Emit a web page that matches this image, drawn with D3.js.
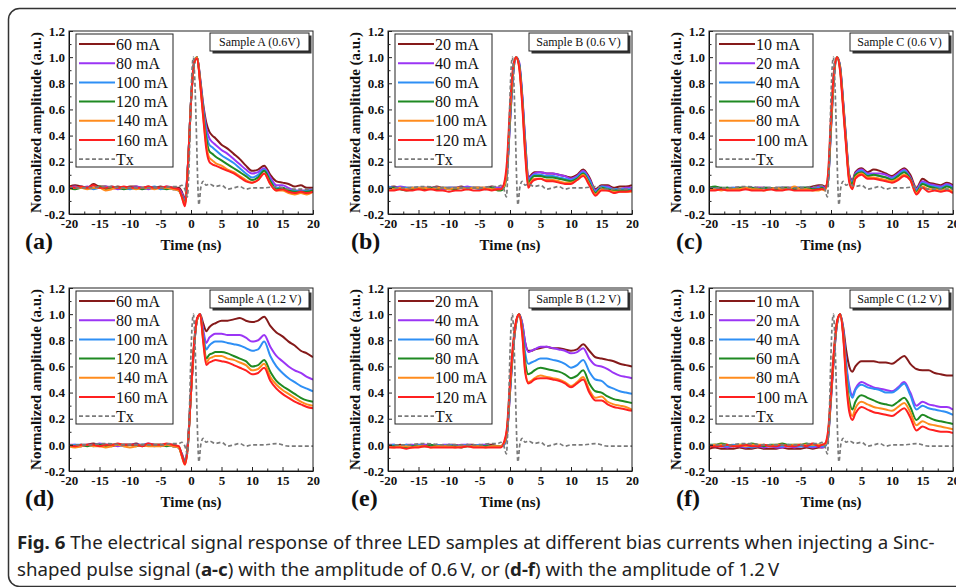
<!DOCTYPE html>
<html>
<head>
<meta charset="utf-8">
<script src="https://cdn.jsdelivr.net/npm/d3@7"></script>
<style>
body { margin: 0; background: #fff; }
svg { display: block; }
</style>
</head>
<body>
<script>
// time grid (ns) shared by all measured curves
var time = [-20,-19,-18,-17,-16,-15,-14,-13,-12,-11,-10,-9,-8,-7,-6,-5,-4,-3,-2,
            -1.5,-1,-0.5,0,0.5,1,1.5,2,2.5,3,3.5,4,
            5,6,7,8,9,10,11,12,13,14,15,16,17,18,19,20];

// transmitted sinc pulse (dashed grey)
var txTime = [-20,-17,-14,-11,-8,-5,-3,-2,-1.5,-1,-0.6,-0.3,0,0.2,0.4,0.6,0.9,1.1,1.3,1.6,2.0,2.5,3,4,5,6,7,8,9,10,12,14,16,18,20];
var txAmp  = [0.0,0.0,0.01,0.0,0.0,0.0,0.01,0.01,0.02,-0.01,-0.07,0.2,0.7,0.93,1.0,0.85,0.4,0.05,-0.13,0.0,0.05,0.02,0.03,0.01,0.02,-0.01,0.0,0.01,-0.01,0.0,0.0,0.01,-0.01,-0.01,-0.01];

var currentsA = ["60 mA","80 mA","100 mA","120 mA","140 mA","160 mA"];
var currentsB = ["20 mA","40 mA","60 mA","80 mA","100 mA","120 mA"];
var currentsC = ["10 mA","20 mA","40 mA","60 mA","80 mA","100 mA"];

var sampleLabels = ["Sample A (0.6V)","Sample B (0.6 V)","Sample C (0.6 V)",
                    "Sample A (1.2 V)","Sample B (1.2 V)","Sample C (1.2 V)"];
var panelLetters = ["(a)","(b)","(c)","(d)","(e)","(f)"];

// Sample A, 0.6 V
var ampA06 = [
 [0.01,0.02,0.01,0.0,0.03,0.01,0.01,0.0,0.01,0.0,0.01,0.01,0.0,0.01,0.0,0.01,0.0,0.0,0.0, -0.03,-0.09,0.18,0.66,0.95,1.0,0.84,0.64,0.5,0.43,0.4,0.38, 0.33,0.3,0.26,0.22,0.17,0.13,0.14,0.17,0.1,0.05,0.04,0.03,0.01,0.02,0.0,0.0],
 [0.0,0.01,0.0,0.01,0.0,0.0,0.01,0.0,-0.01,0.0,0.0,0.01,0.0,-0.01,0.0,0.0,0.01,0.0,-0.01, -0.04,-0.1,0.18,0.66,0.95,1.0,0.83,0.62,0.46,0.38,0.35,0.33, 0.29,0.26,0.22,0.18,0.14,0.11,0.12,0.15,0.08,0.02,0.02,0.0,-0.02,-0.02,-0.02,-0.01],
 [0.0,0.0,0.01,0.0,-0.01,0.0,0.0,0.01,0.0,0.0,-0.01,0.0,0.0,0.0,0.01,-0.01,0.0,-0.01,-0.02, -0.06,-0.12,0.17,0.66,0.95,1.0,0.82,0.6,0.42,0.33,0.31,0.29, 0.25,0.22,0.19,0.15,0.11,0.08,0.1,0.14,0.06,0.0,0.0,-0.02,-0.02,-0.03,-0.02,-0.02],
 [0.0,-0.01,0.0,0.0,0.0,0.01,-0.01,0.0,0.0,-0.01,0.0,0.0,-0.01,0.0,0.0,0.0,-0.01,0.0,-0.02, -0.06,-0.12,0.17,0.66,0.95,1.0,0.81,0.58,0.38,0.28,0.26,0.24, 0.21,0.18,0.15,0.12,0.09,0.06,0.08,0.13,0.05,-0.01,0.0,-0.02,-0.03,-0.03,-0.03,-0.02],
 [-0.01,0.0,0.0,-0.01,0.0,0.0,-0.02,-0.01,0.0,0.0,0.0,-0.01,0.0,0.0,-0.01,0.0,0.0,-0.01,-0.02, -0.07,-0.13,0.16,0.65,0.95,1.0,0.8,0.55,0.33,0.23,0.21,0.19, 0.17,0.14,0.12,0.09,0.06,0.04,0.06,0.11,0.03,-0.02,-0.02,-0.04,-0.05,-0.04,-0.05,-0.03],
 [0.01,0.0,0.01,0.0,0.02,0.0,0.0,0.01,0.0,0.01,0.0,0.0,0.0,0.01,0.0,0.0,0.01,0.0,-0.01, -0.07,-0.14,0.17,0.66,0.96,0.99,0.8,0.54,0.3,0.2,0.18,0.17, 0.15,0.13,0.11,0.08,0.05,0.04,0.06,0.11,0.03,-0.02,-0.01,-0.03,-0.04,-0.03,-0.04,-0.03]
];

// Sample B, 0.6 V
var ampB06 = [
 [0.0,0.01,0.0,0.0,0.0,-0.01,0.0,0.0,0.01,0.0,0.0,0.0,0.01,0.0,0.0,0.0,0.0,0.01,0.0, 0.0,0.02,0.12,0.5,0.86,1.0,0.95,0.7,0.35,0.08,0.1,0.12, 0.12,0.11,0.11,0.1,0.09,0.08,0.1,0.14,0.08,-0.01,0.02,0.02,0.0,0.01,0.01,0.02],
 [0.0,0.0,0.01,0.0,-0.01,0.0,0.0,0.0,0.0,-0.01,0.0,0.0,0.0,0.01,0.0,0.0,-0.01,0.0,0.0, 0.0,0.02,0.12,0.5,0.86,1.0,0.96,0.72,0.36,0.07,0.09,0.11, 0.12,0.11,0.11,0.1,0.09,0.07,0.09,0.13,0.07,-0.02,0.01,0.01,-0.01,-0.01,0.0,0.0],
 [0.01,0.0,0.0,0.0,0.0,0.0,0.0,-0.01,0.0,0.0,0.0,0.0,0.0,0.0,0.0,-0.01,0.0,0.0,-0.01, -0.01,0.01,0.12,0.52,0.87,1.0,0.95,0.7,0.33,0.05,0.08,0.1, 0.1,0.09,0.09,0.08,0.07,0.06,0.08,0.12,0.06,-0.03,0.01,0.0,-0.01,-0.01,-0.01,-0.01],
 [-0.01,0.0,-0.01,-0.02,-0.01,0.0,-0.01,0.0,-0.01,0.0,-0.01,-0.01,0.0,-0.01,0.0,0.0,-0.01,0.0,-0.02, -0.02,0.0,0.14,0.55,0.89,1.0,0.94,0.68,0.3,0.04,0.07,0.09, 0.09,0.08,0.08,0.07,0.06,0.05,0.07,0.11,0.04,-0.04,0.0,-0.01,-0.02,-0.02,-0.02,-0.02],
 [0.0,-0.01,0.0,-0.01,0.0,0.0,0.0,-0.01,0.0,0.0,-0.01,0.0,0.0,-0.01,0.0,0.0,0.0,-0.01,-0.01, -0.01,0.01,0.15,0.57,0.9,1.0,0.93,0.66,0.28,0.02,0.05,0.07, 0.07,0.06,0.06,0.05,0.04,0.04,0.06,0.1,0.03,-0.05,-0.01,-0.02,-0.03,-0.03,-0.03,-0.03],
 [-0.02,-0.02,-0.01,-0.02,-0.02,-0.01,-0.02,-0.01,-0.02,-0.02,-0.03,-0.02,-0.02,-0.01,-0.02,-0.02,-0.01,-0.02,-0.01, -0.01,0.03,0.2,0.62,0.92,1.0,0.92,0.64,0.25,0.0,0.04,0.06, 0.07,0.05,0.05,0.04,0.03,0.03,0.06,0.09,0.02,-0.06,-0.02,-0.02,-0.04,-0.03,-0.03,-0.02]
];

// Sample C, 0.6 V
var ampC06 = [
 [0.0,0.0,-0.01,0.0,-0.01,0.0,0.0,-0.01,0.0,0.0,-0.01,0.0,0.0,0.0,0.0,0.0,0.0,0.01,0.02, 0.02,0.01,0.05,0.45,0.85,1.0,0.93,0.66,0.36,0.1,0.06,0.12, 0.15,0.12,0.14,0.13,0.11,0.09,0.12,0.15,0.1,0.0,0.07,0.04,0.03,0.02,0.04,0.02],
 [0.0,0.0,0.0,-0.01,0.0,0.0,-0.01,0.0,0.0,0.0,0.0,-0.01,0.0,0.0,0.0,0.0,-0.01,0.0,0.01, 0.01,0.0,0.05,0.46,0.86,1.0,0.92,0.65,0.35,0.09,0.05,0.11, 0.14,0.11,0.11,0.11,0.1,0.08,0.11,0.14,0.08,-0.01,0.05,0.03,0.02,0.01,0.03,0.01],
 [-0.01,0.0,-0.01,0.0,0.0,-0.01,0.0,0.0,-0.01,0.0,-0.01,0.0,0.0,-0.01,0.0,0.0,0.0,-0.01,0.0, 0.0,-0.01,0.05,0.47,0.87,1.0,0.92,0.64,0.34,0.08,0.04,0.1, 0.13,0.1,0.1,0.09,0.08,0.07,0.1,0.13,0.07,-0.02,0.04,0.02,0.01,0.0,0.02,0.0],
 [0.0,0.01,0.0,0.0,-0.01,0.0,0.0,0.0,-0.01,0.0,0.0,-0.01,0.0,0.0,-0.01,0.0,0.0,-0.01,-0.01, 0.0,-0.01,0.06,0.48,0.87,1.0,0.91,0.63,0.33,0.07,0.03,0.1, 0.12,0.09,0.1,0.09,0.08,0.06,0.09,0.12,0.07,-0.03,0.03,0.01,0.0,-0.01,0.01,-0.01],
 [-0.01,-0.01,-0.02,-0.01,-0.01,-0.01,0.0,-0.01,-0.01,-0.02,-0.01,0.0,-0.01,-0.01,0.01,-0.01,-0.01,-0.02,-0.02, -0.01,-0.02,0.08,0.5,0.88,1.0,0.9,0.62,0.32,0.06,0.0,0.08, 0.11,0.08,0.08,0.07,0.06,0.05,0.07,0.1,0.06,-0.04,0.01,-0.01,-0.01,-0.02,-0.01,-0.03],
 [-0.02,-0.02,-0.01,-0.02,-0.02,-0.02,-0.01,-0.02,-0.02,-0.02,-0.01,-0.02,-0.02,-0.01,-0.02,-0.02,-0.02,-0.02,-0.01, -0.01,-0.01,0.1,0.55,0.9,1.0,0.89,0.6,0.3,0.04,-0.01,0.07, 0.1,0.07,0.07,0.06,0.05,0.04,0.06,0.09,0.06,-0.05,0.0,-0.03,-0.02,-0.03,-0.02,-0.04]
];

// Sample A, 1.2 V
var ampA12 = [
 [0.0,-0.01,-0.01,0.0,0.01,0.0,0.0,-0.01,0.0,0.0,0.0,0.01,-0.01,0.0,0.0,0.0,0.0,-0.01,-0.02, -0.07,-0.12,0.02,0.4,0.75,0.96,1.0,0.93,0.87,0.9,0.92,0.93, 0.95,0.95,0.96,0.97,0.95,0.94,0.95,0.98,0.91,0.86,0.83,0.79,0.76,0.72,0.7,0.67],
 [0.0,0.0,-0.01,0.0,0.0,0.01,0.0,0.0,-0.01,0.0,0.0,0.0,0.0,0.01,0.0,-0.01,0.0,0.0,-0.02, -0.07,-0.13,0.02,0.4,0.75,0.96,1.0,0.88,0.78,0.82,0.84,0.85, 0.85,0.84,0.84,0.84,0.82,0.79,0.8,0.84,0.75,0.68,0.64,0.6,0.57,0.55,0.52,0.5],
 [-0.01,0.0,0.0,0.0,-0.01,0.0,0.0,0.0,0.0,-0.01,0.0,0.0,0.0,0.0,-0.01,0.0,0.0,-0.01,-0.02, -0.08,-0.14,0.01,0.4,0.75,0.96,1.0,0.85,0.73,0.76,0.78,0.79, 0.79,0.78,0.77,0.76,0.74,0.72,0.73,0.79,0.68,0.6,0.55,0.51,0.48,0.45,0.43,0.41],
 [-0.01,-0.01,0.0,-0.01,0.0,0.0,-0.01,0.0,0.0,0.0,0.0,-0.01,0.0,0.0,0.0,0.0,-0.01,0.0,-0.02, -0.08,-0.14,0.01,0.4,0.76,0.96,1.0,0.82,0.66,0.69,0.7,0.71, 0.71,0.7,0.68,0.66,0.64,0.6,0.61,0.65,0.56,0.49,0.45,0.42,0.39,0.36,0.34,0.33],
 [-0.01,-0.02,-0.01,0.0,-0.01,-0.01,-0.02,-0.01,0.0,-0.01,-0.02,-0.01,0.0,-0.01,-0.01,-0.01,0.0,-0.01,-0.02, -0.09,-0.15,0.0,0.4,0.76,0.96,1.0,0.8,0.63,0.66,0.67,0.68, 0.68,0.66,0.65,0.63,0.61,0.57,0.58,0.62,0.52,0.46,0.42,0.39,0.36,0.33,0.31,0.3],
 [0.0,-0.01,0.0,0.0,0.0,-0.01,0.0,0.0,0.01,0.0,0.0,0.0,-0.01,0.01,0.0,0.0,0.01,0.0,-0.01, -0.08,-0.15,0.0,0.41,0.77,0.97,1.0,0.79,0.61,0.63,0.64,0.65, 0.64,0.63,0.61,0.59,0.57,0.54,0.55,0.59,0.49,0.43,0.39,0.36,0.33,0.31,0.29,0.28]
];

// Sample B, 1.2 V
var ampB12 = [
 [0.0,-0.01,0.0,-0.01,-0.01,0.0,0.0,-0.01,0.0,-0.01,0.0,0.0,-0.01,0.0,0.0,-0.01,0.0,0.0,-0.01, -0.01,0.0,0.08,0.4,0.72,0.93,1.0,0.93,0.78,0.72,0.72,0.73, 0.74,0.75,0.74,0.74,0.73,0.72,0.73,0.77,0.72,0.67,0.66,0.65,0.64,0.62,0.61,0.6],
 [0.0,0.0,-0.01,0.0,0.0,-0.01,0.0,0.0,-0.01,0.0,0.0,-0.01,0.0,0.0,-0.01,0.0,0.0,-0.01,-0.01, -0.01,0.0,0.08,0.4,0.72,0.93,1.0,0.93,0.78,0.71,0.72,0.73, 0.75,0.75,0.74,0.73,0.72,0.7,0.71,0.74,0.66,0.61,0.6,0.58,0.55,0.53,0.52,0.51],
 [-0.01,0.0,-0.01,0.0,-0.01,0.0,-0.01,-0.01,0.0,-0.01,0.0,-0.01,-0.01,0.0,-0.01,0.0,-0.01,-0.01,-0.01, -0.01,0.0,0.09,0.42,0.73,0.93,1.0,0.9,0.7,0.62,0.63,0.64, 0.66,0.66,0.65,0.64,0.62,0.59,0.61,0.65,0.56,0.5,0.49,0.45,0.43,0.41,0.4,0.39],
 [-0.01,-0.01,-0.01,-0.02,-0.01,-0.01,-0.01,0.0,-0.01,-0.01,-0.01,-0.01,-0.02,-0.01,-0.01,-0.01,-0.01,-0.01,-0.01, -0.01,0.01,0.1,0.43,0.74,0.94,1.0,0.88,0.63,0.54,0.55,0.57, 0.59,0.58,0.57,0.56,0.54,0.51,0.53,0.57,0.47,0.41,0.4,0.37,0.35,0.34,0.33,0.32],
 [-0.01,-0.02,-0.01,-0.01,-0.02,-0.01,-0.01,-0.02,-0.01,-0.01,-0.01,-0.02,-0.01,-0.01,-0.01,-0.01,-0.02,-0.01,-0.01, -0.01,0.01,0.11,0.45,0.75,0.94,1.0,0.86,0.57,0.48,0.49,0.51, 0.53,0.52,0.51,0.5,0.48,0.45,0.48,0.52,0.42,0.36,0.37,0.33,0.31,0.3,0.29,0.27],
 [-0.02,-0.02,-0.02,-0.03,-0.02,-0.02,-0.01,-0.02,-0.02,-0.02,-0.02,-0.02,-0.02,-0.01,-0.02,-0.02,-0.02,-0.02,-0.02, -0.02,0.02,0.13,0.48,0.77,0.95,1.0,0.85,0.55,0.47,0.48,0.5, 0.51,0.51,0.5,0.49,0.47,0.44,0.47,0.5,0.4,0.34,0.34,0.31,0.29,0.28,0.27,0.26]
];

// Sample C, 1.2 V
var ampC12 = [
 [-0.03,-0.02,-0.03,-0.03,-0.03,-0.02,-0.03,-0.03,-0.02,-0.03,-0.03,-0.03,-0.02,-0.03,-0.03,-0.03,-0.02,-0.03,-0.02, -0.02,-0.01,0.05,0.35,0.68,0.93,1.0,0.9,0.72,0.6,0.56,0.6, 0.64,0.64,0.64,0.63,0.63,0.62,0.65,0.68,0.62,0.58,0.57,0.57,0.55,0.54,0.53,0.53],
 [0.0,-0.01,-0.01,-0.02,-0.01,-0.01,-0.02,-0.01,-0.01,-0.02,-0.01,-0.02,-0.02,-0.01,-0.02,-0.01,-0.01,-0.02,-0.01, -0.02,-0.01,0.06,0.36,0.69,0.93,1.0,0.88,0.62,0.45,0.38,0.43, 0.48,0.46,0.44,0.43,0.42,0.41,0.44,0.48,0.4,0.3,0.33,0.31,0.3,0.29,0.29,0.27],
 [-0.01,0.0,-0.01,-0.01,0.0,-0.01,-0.01,-0.02,-0.01,0.0,-0.01,-0.01,-0.01,0.0,-0.01,-0.01,-0.01,-0.01,0.0, -0.01,-0.01,0.06,0.37,0.7,0.93,1.0,0.87,0.6,0.43,0.36,0.42, 0.46,0.44,0.43,0.42,0.4,0.4,0.43,0.47,0.38,0.27,0.3,0.28,0.27,0.26,0.25,0.23],
 [0.0,0.0,0.01,0.0,-0.01,0.0,0.0,0.01,0.0,-0.01,0.0,0.0,0.01,0.0,0.0,0.0,0.01,0.0,0.0, 0.0,0.0,0.07,0.38,0.71,0.94,1.0,0.85,0.53,0.34,0.27,0.33, 0.38,0.36,0.34,0.32,0.31,0.3,0.33,0.36,0.29,0.19,0.23,0.21,0.19,0.18,0.17,0.16],
 [-0.01,0.0,0.0,0.0,-0.01,0.0,-0.01,0.0,0.0,0.0,-0.01,0.0,0.0,-0.01,0.0,0.0,0.0,0.0,0.0, 0.0,0.0,0.08,0.39,0.72,0.94,1.0,0.84,0.5,0.29,0.22,0.28, 0.33,0.31,0.29,0.28,0.27,0.26,0.29,0.32,0.25,0.15,0.18,0.16,0.15,0.14,0.13,0.12],
 [-0.01,-0.01,-0.01,0.0,-0.01,-0.01,0.0,-0.01,-0.01,0.0,-0.01,-0.01,0.0,-0.01,-0.01,0.0,-0.01,0.01,-0.01, 0.0,0.01,0.1,0.4,0.73,0.95,1.0,0.83,0.47,0.25,0.19,0.24, 0.29,0.27,0.25,0.24,0.23,0.22,0.25,0.28,0.21,0.11,0.14,0.12,0.11,0.1,0.1,0.09]
];

var xTicks = [-20,-15,-10,-5,0,5,10,15,20];
var yTicks = [-0.2,0.0,0.2,0.4,0.6,0.8,1.0,1.2];

var seriesColors = ["#851a1a","#9b35f5","#2e8ff5","#1f8a22","#ff8c1e","#ff2020"];

// ---- layout ----
var width = 956, height = 587;
var pw = 244, ph = 183;
var colLeft = [69, 388, 709];
var rowTop = [31, 288];
var letterX = [25, 351, 676];
var serif = "'Liberation Serif','Times New Roman',serif";

var svg = d3.select("body").append("svg")
    .attr("width", width)
    .attr("height", height);

svg.append("rect")
    .attr("x", 8.5).attr("y", 8.5)
    .attr("width", 1000).attr("height", 578)
    .attr("rx", 11).attr("ry", 11)
    .attr("fill", "#fff")
    .attr("stroke", "#333")
    .attr("stroke-width", 1.5);

var panels = [
    {curr: currentsA, amps: ampA06},
    {curr: currentsB, amps: ampB06},
    {curr: currentsC, amps: ampC06},
    {curr: currentsA, amps: ampA12},
    {curr: currentsB, amps: ampB12},
    {curr: currentsC, amps: ampC12}
];

panels.forEach((p, i) => drawPanel(p, i));

function drawPanel(p, i) {
    let col = i % 3, row = Math.floor(i / 3);
    let g = svg.append("g")
        .attr("transform", "translate(" + colLeft[col] + "," + rowTop[row] + ")");

    let x = d3.scaleLinear().domain([-20, 20]).range([0, pw]);
    let y = d3.scaleLinear().domain([-0.2, 1.2]).range([ph, 0]);

    let clipId = "clip" + i;
    g.append("clipPath").attr("id", clipId)
        .append("rect").attr("width", pw).attr("height", ph);

    let plot = g.append("g").attr("clip-path", "url(#" + clipId + ")");

    let line = d3.line()
        .x((d, k) => x(time[k]))
        .y(d => y(d))
        .curve(d3.curveMonotoneX);

    p.amps.forEach((s, k) => {
        plot.append("path")
            .attr("d", line(s))
            .attr("fill", "none")
            .attr("stroke", seriesColors[k])
            .attr("stroke-width", 2)
            .attr("stroke-linejoin", "round");
    });

    let txLine = d3.line()
        .x((d, k) => x(txTime[k]))
        .y(d => y(d))
        .curve(d3.curveMonotoneX);

    plot.append("path")
        .attr("d", txLine(txAmp))
        .attr("fill", "none")
        .attr("stroke", "#7a7a7a")
        .attr("stroke-width", 1.7)
        .attr("stroke-dasharray", "4,2.5");

    // axes with inward ticks
    let xAxis = g.append("g").attr("transform", "translate(0," + ph + ")")
        .call(d3.axisBottom(x).tickValues(xTicks).tickSizeInner(-4).tickSizeOuter(0)
              .tickPadding(5).tickFormat(d => String(d)));
    g.append("g").attr("transform", "translate(0," + ph + ")")
        .call(d3.axisBottom(x).tickValues(xTicks.slice(0, -1).map(v => v + 2.5))
              .tickSizeInner(-2.5).tickSizeOuter(0).tickFormat(""))
        .select(".domain").remove();
    let yAxis = g.append("g")
        .call(d3.axisLeft(y).tickValues(yTicks).tickSizeInner(-4).tickSizeOuter(0)
              .tickPadding(4).tickFormat(d => d.toFixed(1)));
    g.append("g")
        .call(d3.axisLeft(y).tickValues(yTicks.slice(0, -1).map(v => v + 0.1))
              .tickSizeInner(-2.5).tickSizeOuter(0).tickFormat(""))
        .select(".domain").remove();

    [xAxis, yAxis].forEach(a => {
        a.selectAll("text")
            .attr("font-family", serif)
            .attr("font-weight", "bold")
            .attr("font-size", 13)
            .attr("fill", "#111");
    });
    g.selectAll(".tick line").attr("stroke", "#222");

    g.append("rect")
        .attr("width", pw).attr("height", ph)
        .attr("fill", "none")
        .attr("stroke", "#222")
        .attr("stroke-width", 1);

    // axis titles
    g.append("text")
        .attr("x", pw / 2).attr("y", ph + 36)
        .attr("text-anchor", "middle")
        .attr("font-family", serif).attr("font-weight", "bold").attr("font-size", 15)
        .attr("fill", "#111")
        .text("Time (ns)");

    g.append("text")
        .attr("transform", "translate(-33," + (ph / 2) + ") rotate(-90)")
        .attr("text-anchor", "middle")
        .attr("dy", "0.35em")
        .attr("font-family", serif).attr("font-weight", "bold").attr("font-size", 15)
        .attr("fill", "#111")
        .text("Normalized amplitude (a.u.)");

    svg.append("text")
        .attr("x", letterX[col]).attr("y", rowTop[row] + ph + 35)
        .attr("font-family", serif).attr("font-weight", "bold").attr("font-size", 24)
        .attr("fill", "#111")
        .text(panelLetters[i]);

    // legend
    let leg = g.append("g").attr("transform", "translate(7,3)");
    leg.append("rect")
        .attr("width", 97).attr("height", 133)
        .attr("fill", "#fff").attr("stroke", "#222").attr("stroke-width", 1);
    let names = p.curr.concat(["Tx"]);
    names.forEach((name, k) => {
        let ly = 10 + k * 19.2;
        leg.append("line")
            .attr("x1", 3).attr("x2", 39).attr("y1", ly).attr("y2", ly)
            .attr("stroke", k < 6 ? seriesColors[k] : "#7a7a7a")
            .attr("stroke-width", k < 6 ? 2 : 1.7)
            .attr("stroke-dasharray", k < 6 ? null : "4,2.5");
        leg.append("text")
            .attr("x", 40).attr("y", ly).attr("dy", "0.35em")
            .attr("font-family", serif).attr("font-size", 16)
            .attr("fill", "#111")
            .text(name);
    });

    // sample tag with shadow
    let tag = g.append("g").attr("transform", "translate(" + (pw - 103) + ",2)");
    tag.append("rect").attr("x", 2.5).attr("y", 2.5)
        .attr("width", 99).attr("height", 18).attr("fill", "#333");
    tag.append("rect")
        .attr("width", 99).attr("height", 18)
        .attr("fill", "#fff").attr("stroke", "#222").attr("stroke-width", 1);
    tag.append("text")
        .attr("x", 49.5).attr("y", 9).attr("dy", "0.35em")
        .attr("text-anchor", "middle")
        .attr("font-family", serif).attr("font-size", 12)
        .attr("fill", "#111")
        .text(sampleLabels[i]);
}

// caption
var capFont = "'Noto Sans','Open Sans',sans-serif";
var capLines = [
    [["Fig. 6", true], [" The electrical signal response of three LED samples at different bias currents when injecting a Sinc-", false]],
    [["shaped pulse signal (", false], ["a-c", true], [") with the amplitude of 0.6\u2009V, or (", false], ["d-f", true], [") with the amplitude of 1.2\u2009V", false]]
];
var capY = [549, 576];
var capNodes = capLines.map((parts, li) => {
    let t = svg.append("text")
        .attr("font-family", capFont)
        .attr("font-size", 18)
        .attr("fill", "#222");
    parts.forEach(pt => {
        t.append("tspan")
            .attr("font-weight", pt[1] ? "bold" : "normal")
            .text(pt[0]);
    });
    return t;
});
var lineLen = capNodes[0].node().getComputedTextLength();
var sx = 918 / lineLen;
capNodes.forEach((t, li) => {
    t.attr("transform", "translate(17," + capY[li] + ") scale(" + sx + ",1)");
});
</script>
</body>
</html>
